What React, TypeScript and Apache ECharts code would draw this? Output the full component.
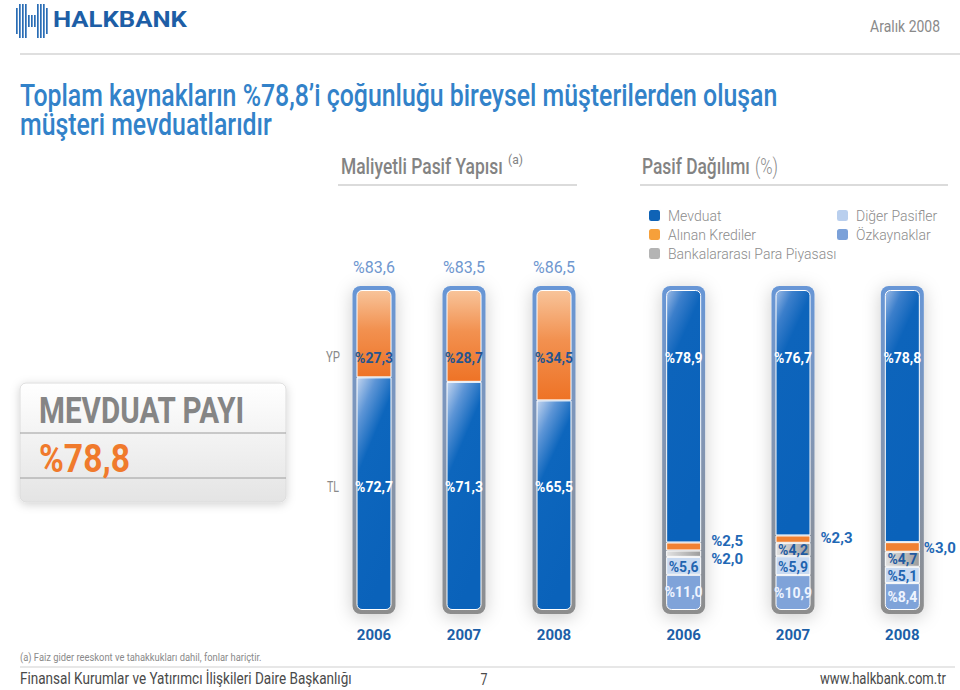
import React, { useEffect, useRef } from "react";
import * as echarts from "echarts";

const years = ["2006", "2007", "2008"];
const maliyetliPasif = ["%83,6", "%83,5", "%86,5"];
const ypShare = [27.3, 28.7, 34.5];
const tlShare = [72.7, 71.3, 65.5];
const mevduat = [78.9, 76.7, 78.8];
const alinanKrediler = [2.5, 2.3, 3.0];
const bankalararasi = [2.0, 4.2, 4.7];
const digerPasifler = [5.6, 5.9, 5.1];
const ozkaynaklar = [11.0, 10.9, 8.4];
const mevduatPayi = 78.8;

const FONT = 'Roboto, "Liberation Sans", Arial, sans-serif';
const fmt = (v: number) => "%" + v.toFixed(1).replace(".", ",");

const lg = (stops: [number, string][], x2 = 0, y2 = 1) =>
  new echarts.graphic.LinearGradient(0, 0, x2, y2, stops.map(([offset, color]) => ({ offset, color })));

let measureCtx: CanvasRenderingContext2D | null = null;
const fitScale = (text: string, weight: string | number, size: number, target: number) => {
  if (!measureCtx) measureCtx = document.createElement("canvas").getContext("2d");
  if (!measureCtx) return 1;
  measureCtx.font = `${weight} ${size}px ${FONT}`;
  const w = measureCtx.measureText(text).width;
  return w > 0 ? target / w : 1;
};

export default function App() {
  const ref = useRef<HTMLDivElement>(null);
  useEffect(() => {
    document.body.style.margin = "0";
    const chart = echarts.init(ref.current!, null, { renderer: "svg" });

    const labelBase = { show: true, fontFamily: FONT, fontSize: 14, fontWeight: "bold" as const, formatter: (p: any) => fmt(p.value) };
    const dataStyle = { borderColor: "#ffffff", borderWidth: 1 };

    const frameSeries = (xi: number, yi: number) => ({
      type: "bar",
      xAxisIndex: xi,
      yAxisIndex: yi,
      data: years.map(() => 100),
      barWidth: 43,
      silent: true,
      z: 1,
      itemStyle: {
        color: lg([[0, "#6796d6"], [0.45, "#8196b6"], [1, "#8d8d8d"]]),
        borderRadius: 8,
        shadowBlur: 18,
        shadowColor: "rgba(0,0,0,0.2)",
        shadowOffsetY: 3,
      },
    });

    const outsideLabel = (vals: number[], offsets: ([number, number] | null)[], distances: number[] = [10, 10, 4]) =>
      vals.map((v, i) =>
        offsets[i]
          ? { value: v, label: { position: "right", distance: distances[i], offset: offsets[i], color: "#1f68b5", fontSize: 15 } }
          : v
      );

    const logoLines: any[] = [];
    const lx = [16, 19, 22, 25, 37, 40, 43, 46];
    lx.forEach((x, i) => {
      const edge = i === 0 || i === 7;
      const h = edge ? 26 : 34;
      logoLines.push({ type: "rect", shape: { x, y: 4 + (34 - h) / 2, width: 1.7, height: h }, style: { fill: "#2a6db5" } });
    });
    [28, 31, 34].forEach((x) => {
      logoLines.push({ type: "rect", shape: { x, y: 15, width: 1.7, height: 12 }, style: { fill: "#2a6db5" } });
    });

    const txt = (
      text: string, x: number, y: number, fill: string, size: number,
      weight: string | number = "normal", align = "left", target = 0
    ) => ({
      type: "text",
      x,
      y,
      scaleX: target ? fitScale(text, weight, size, target) : 1,
      style: { text, x: 0, y: 0, fill, fontSize: size, fontWeight: weight, fontFamily: FONT, textAlign: align, textVerticalAlign: "middle" },
    });
    const hline = (x1: number, x2: number, y: number, color: string, w = 1) => ({
      type: "line",
      shape: { x1, y1: y, x2, y2: y },
      style: { stroke: color, lineWidth: w },
    });

    const title1 = "Toplam kaynakların %78,8’i çoğunluğu bireysel müşterilerden oluşan";
    const titleScale = fitScale(title1, 500, 32, 758);

    chart.setOption({
      animation: false,
      backgroundColor: "#ffffff",
      grid: [
        { left: 329, width: 270, top: 290, height: 320 },
        { left: 629, width: 328, top: 290, height: 320 },
        { left: 329, width: 270, top: 286, height: 328 },
        { left: 629, width: 328, top: 286, height: 328 },
      ],
      xAxis: [
        {
          type: "category", gridIndex: 0, data: years, position: "bottom",
          axisLine: { show: false }, axisTick: { show: false },
          axisLabel: { margin: 17, color: "#1c5fa8", fontSize: 15, fontWeight: "bold", fontFamily: FONT },
        },
        {
          type: "category", gridIndex: 0, data: maliyetliPasif, position: "top",
          axisLine: { show: false }, axisTick: { show: false },
          axisLabel: { margin: 15, color: "#6f97cf", fontSize: 16, fontFamily: FONT },
        },
        {
          type: "category", gridIndex: 1, data: years, position: "bottom",
          axisLine: { show: false }, axisTick: { show: false },
          axisLabel: { margin: 17, color: "#1c5fa8", fontSize: 15, fontWeight: "bold", fontFamily: FONT },
        },
        { type: "category", gridIndex: 2, data: years, show: false },
        { type: "category", gridIndex: 3, data: years, show: false },
      ],
      yAxis: [0, 1, 2, 3].map((g) => ({ type: "value", gridIndex: g, min: 0, max: 100, show: false, splitLine: { show: false } })),
      legend: [
        {
          orient: "vertical", left: 642, top: 203, itemWidth: 13, itemHeight: 13, itemGap: 4, selectedMode: false, icon: "roundRect",
          textStyle: { color: "#8c8c8c", fontSize: 14, fontWeight: 300, fontFamily: FONT, padding: [0, 0, 0, 2] },
          data: [
            { name: "Mevduat", itemStyle: { color: "#0f63b6" } },
            { name: "Alınan Krediler", itemStyle: { color: "#f6a03a" } },
            { name: "Bankalararası Para Piyasası", itemStyle: { color: "#b4b4b4" } },
          ],
        },
        {
          orient: "vertical", left: 830, top: 203, itemWidth: 13, itemHeight: 13, itemGap: 4, selectedMode: false, icon: "roundRect",
          textStyle: { color: "#8c8c8c", fontSize: 14, fontWeight: 300, fontFamily: FONT, padding: [0, 0, 0, 2] },
          data: [
            { name: "Diğer Pasifler", itemStyle: { color: "#b9cfee" } },
            { name: "Özkaynaklar", itemStyle: { color: "#7ba1d9" } },
          ],
        },
      ],
      series: [
        frameSeries(3, 2),
        frameSeries(4, 3),
        {
          type: "bar", name: "TL", stack: "left", xAxisIndex: 0, yAxisIndex: 0, barWidth: 35, z: 3, data: tlShare,
          itemStyle: { ...dataStyle, borderRadius: [0, 0, 5, 5], color: lg([[0, "#c3d5ef"], [0.18, "#5d95d6"], [0.38, "#0d66bd"], [1, "#0a62ba"]], 0.35, 1) },
          label: { ...labelBase, position: "insideBottom", distance: 116, color: "#ffffff" },
        },
        {
          type: "bar", name: "YP", stack: "left", xAxisIndex: 0, yAxisIndex: 0, barWidth: 35, z: 3, data: ypShare,
          itemStyle: { ...dataStyle, borderRadius: [5, 5, 0, 0], color: lg([[0, "#f8c49a"], [0.45, "#f29150"], [1, "#ee7326"]]) },
          label: { ...labelBase, position: "insideTop", distance: 61, color: "#24558f" },
        },
        {
          type: "bar", name: "Özkaynaklar", stack: "right", xAxisIndex: 2, yAxisIndex: 1, barWidth: 35, z: 3, data: ozkaynaklar,
          itemStyle: { ...dataStyle, borderRadius: [0, 0, 5, 5], color: "#7fa3d9" },
          label: { ...labelBase, position: "inside", color: "#eef4ff" },
        },
        {
          type: "bar", name: "Diğer Pasifler", stack: "right", xAxisIndex: 2, yAxisIndex: 1, barWidth: 35, z: 3, data: digerPasifler,
          itemStyle: { ...dataStyle, color: "#c9daf1" },
          label: { ...labelBase, position: "inside", offset: [0, 1], color: "#1f64b0" },
        },
        {
          type: "bar", name: "Bankalararası Para Piyasası", stack: "right", xAxisIndex: 2, yAxisIndex: 1, barWidth: 35, z: 3,
          data: outsideLabel(bankalararasi, [[0, 5], null, null]),
          itemStyle: { ...dataStyle, color: lg([[0, "#e2e2e2"], [1, "#9c9c9c"]], 1, 0) },
          label: { ...labelBase, position: "inside", color: "#1f5aa0" },
        },
        {
          type: "bar", name: "Alınan Krediler", stack: "right", xAxisIndex: 2, yAxisIndex: 1, barWidth: 35, z: 3,
          data: outsideLabel(alinanKrediler, [[0, -5], [0, -1], [0, 1]]),
          itemStyle: { ...dataStyle, color: "#f08132" },
          label: { ...labelBase, position: "right", color: "#1f68b5", fontSize: 15 },
        },
        {
          type: "bar", name: "Mevduat", stack: "right", xAxisIndex: 2, yAxisIndex: 1, barWidth: 35, z: 3, data: mevduat,
          itemStyle: { ...dataStyle, borderRadius: [5, 5, 0, 0], color: lg([[0, "#9dbbe6"], [0.14, "#3c7fcb"], [0.3, "#0d64bb"], [1, "#0a62ba"]], 0.3, 1) },
          label: { ...labelBase, position: "insideTop", distance: 61, color: "#ffffff" },
        },
      ],
      graphic: [
        ...logoLines,
        txt("HALKBANK", 53, 20, "#1d5ea6", 22, "bold", "left", 134),
        txt("Aralık 2008", 940, 27, "#8a8a8a", 16, "normal", "right", 70),
        hline(20, 960, 54, "#d4d4d4", 1.5),
        { ...txt(title1, 20, 95, "#3282c9", 32, 500), scaleX: titleScale },
        { ...txt("müşteri mevduatlarıdır", 20, 124, "#3282c9", 32, 500), scaleX: titleScale },
        txt("Maliyetli Pasif Yapısı", 341, 167, "#838383", 22, 500, "left", 162),
        txt("(a)", 508, 160, "#838383", 12, "normal", "left", 15),
        hline(338, 577, 185, "#b8b8b8", 1.2),
        txt("Pasif Dağılımı", 642, 167, "#838383", 22, 500, "left", 108),
        txt("(%)", 755, 167, "#8a8a8a", 22, 300, "left", 23),
        hline(640, 948, 185, "#b8b8b8", 1.2),
        txt("YP", 333, 357, "#8a8a8a", 14, "normal", "center", 14),
        txt("TL", 333, 487, "#8a8a8a", 14, "normal", "center", 12),
        {
          type: "rect",
          shape: { x: 20, y: 383, width: 266, height: 119, r: 6 },
          style: {
            fill: lg([[0, "#ffffff"], [1, "#e4e4e4"]]),
            stroke: "#dcdcdc",
            lineWidth: 1,
            shadowBlur: 10,
            shadowColor: "rgba(0,0,0,0.18)",
            shadowOffsetY: 2,
          },
        },
        hline(20, 286, 433, "#9c9c9c", 1),
        hline(20, 286, 478, "#9c9c9c", 1),
        txt("MEVDUAT PAYI", 39, 410, "#858585", 37, "bold", "left", 206),
        txt(fmt(mevduatPayi), 39, 459, "#f07a2c", 38, "bold", "left", 91),
        txt("(a) Faiz gider reeskont ve tahakkukları dahil, fonlar hariçtir.", 20, 657, "#8a8a8a", 11, "normal", "left", 242),
        hline(20, 955, 667, "#cfcfcf", 1),
        txt("Finansal Kurumlar ve Yatırımcı İlişkileri Daire Başkanlığı", 20, 679, "#4a4a4a", 16, "normal", "left", 332),
        txt("7", 484, 679, "#4a4a4a", 16, "normal", "center", 7),
        txt("www.halkbank.com.tr", 946, 679, "#4a4a4a", 16, "normal", "right", 126),
      ],
    });
    return () => chart.dispose();
  }, []);
  return <div ref={ref} style={{ width: 960, height: 690 }} />;
}
